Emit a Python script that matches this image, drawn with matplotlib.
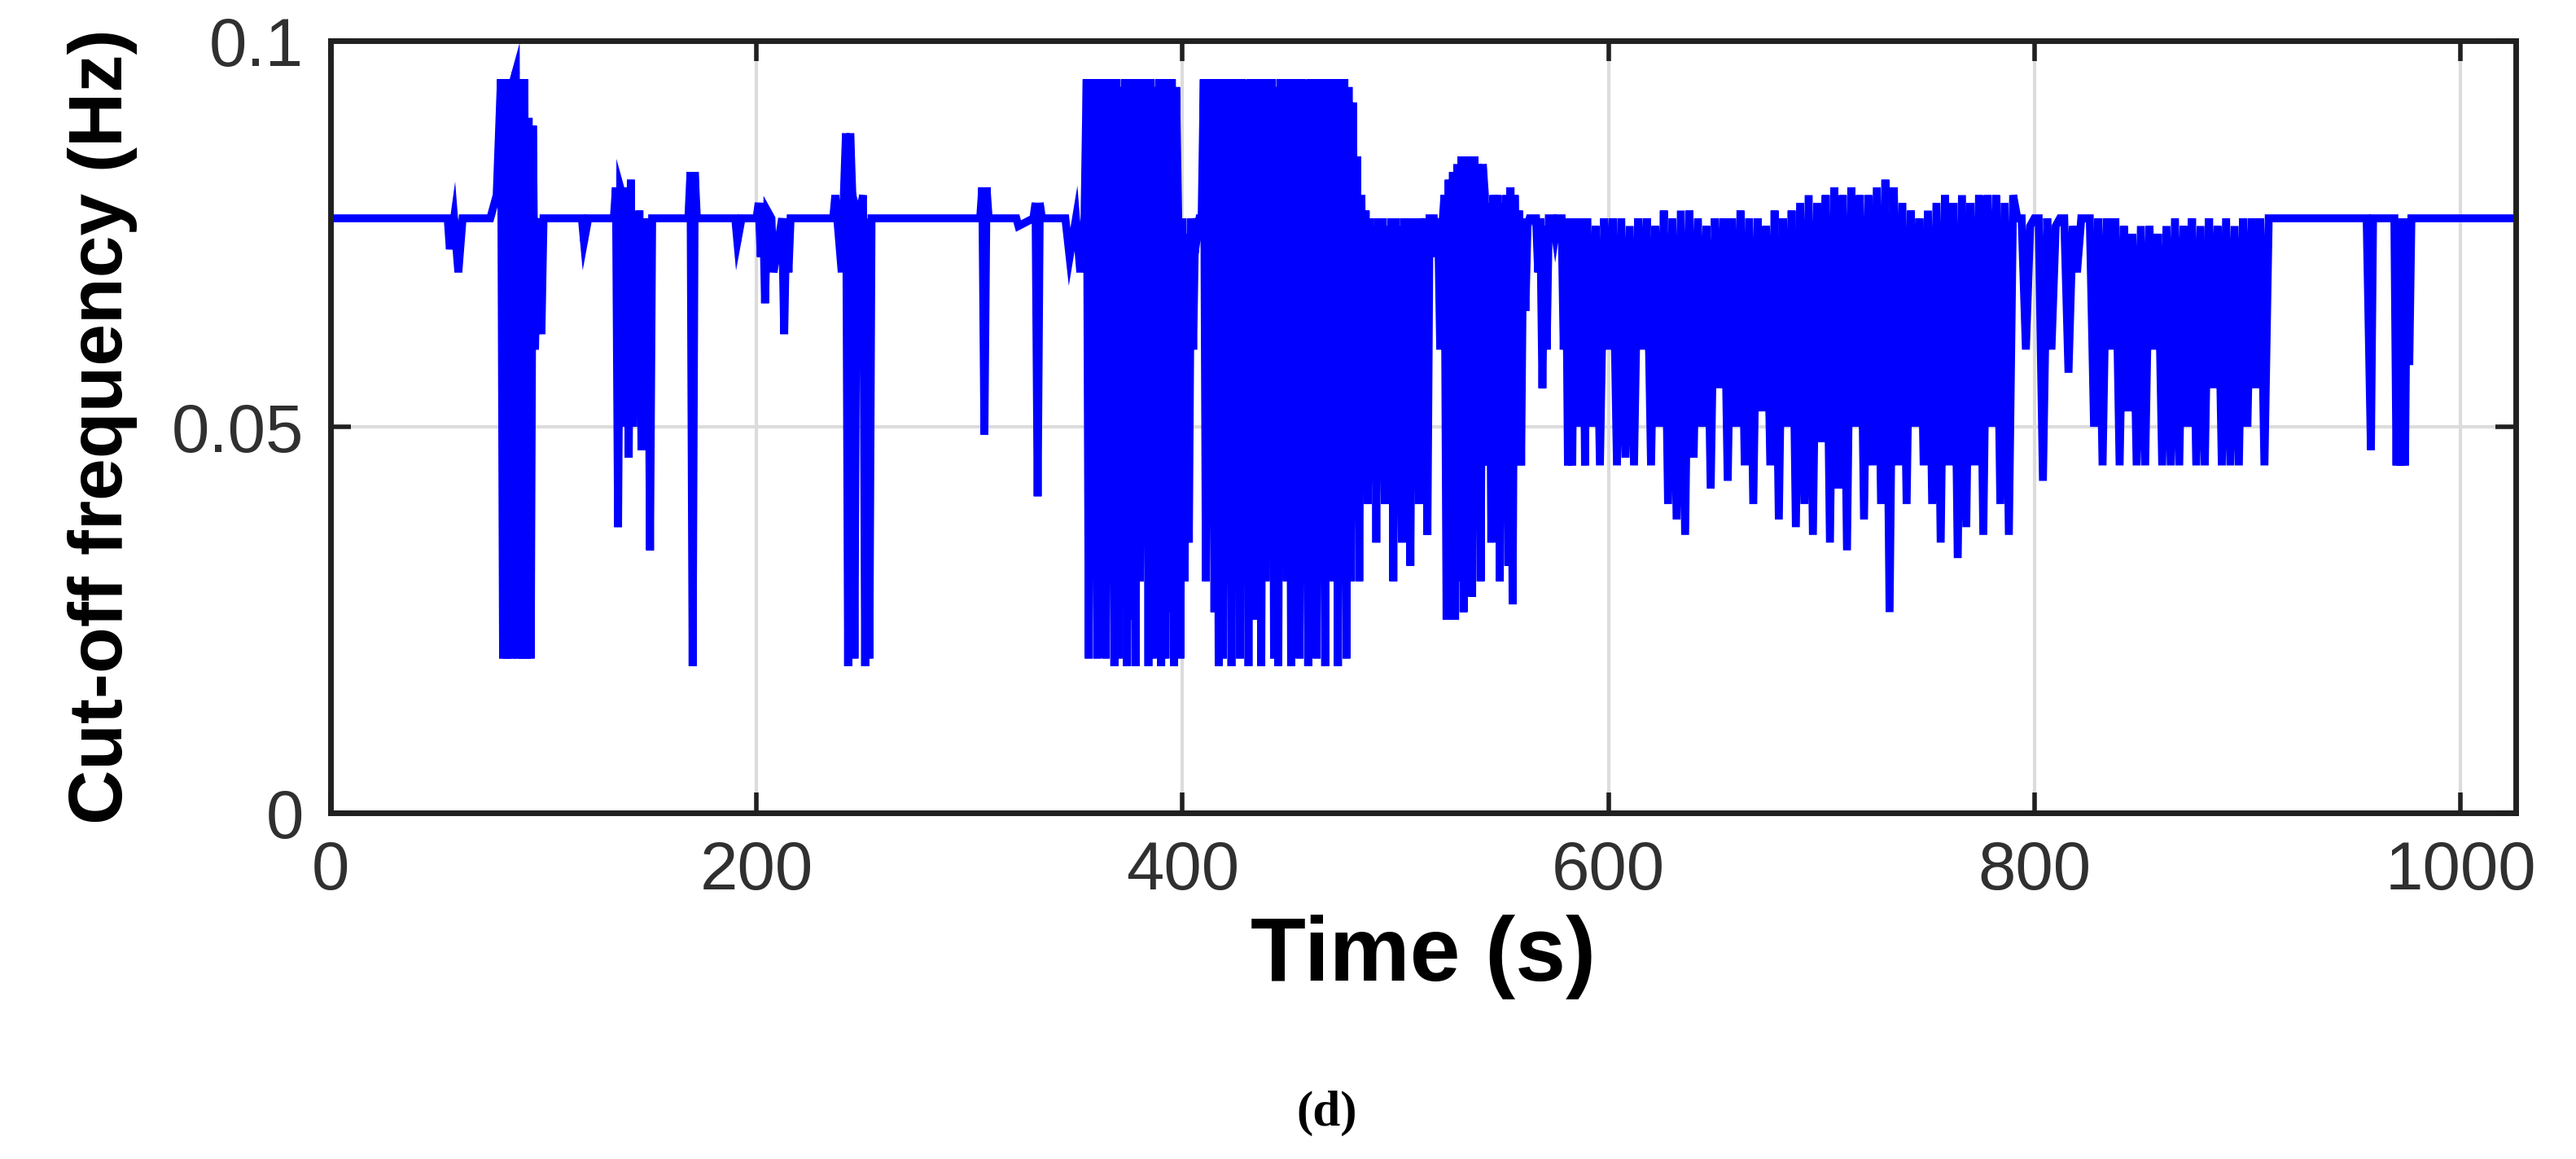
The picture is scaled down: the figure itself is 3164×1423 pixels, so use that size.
import matplotlib
matplotlib.use('Agg')
import matplotlib.pyplot as plt
import numpy as np

# Cut-off frequency trace (time in s, frequency in Hz)
time_s = [
    0, 55, 56, 58, 60, 62, 64, 75, 78, 80, 81, 82, 83, 84, 85, 86, 87, 88, 89, 90, 91, 92, 93, 94, 95, 96, 97, 98, 99, 100,
    118, 119, 121, 122, 133, 134, 135, 136, 137, 138, 139, 140, 141, 142, 143, 144, 145, 146, 147, 148, 149, 150, 151, 152,
    168, 169, 170, 171, 172, 173, 190, 191, 193, 194, 200, 201, 202, 203, 204, 205, 207, 208, 212, 213, 214, 215, 216, 217,
    236, 237, 240, 241, 242, 243, 244, 245, 246, 247, 248, 250, 251, 252, 253, 254, 255,
    305, 306, 307, 308, 309, 310, 322, 323, 330, 331, 332, 333, 334, 335, 336,
    345, 347, 350, 352, 354, 355, 356, 357, 358, 359, 360, 361, 362, 363, 364, 365, 366, 367, 368, 369, 370, 371, 372, 373,
    374, 375, 376, 377, 378, 379, 380, 381, 382, 383, 384, 385, 386, 387, 388, 389, 390, 391, 392, 393, 394, 395, 396, 397,
    398, 399, 400, 401, 402, 403, 404, 405, 406, 407, 408, 409, 410, 411, 412, 413, 414, 415, 416, 417, 418, 419, 420, 421,
    422, 423, 424, 425, 426, 427, 428, 429, 430, 431, 432, 433, 434, 435, 436, 437, 438, 439, 440, 441, 442, 443, 444, 445,
    446, 447, 448, 449, 450, 451, 452, 453, 454, 455, 456, 457, 458, 459, 460, 461, 462, 463, 464, 465, 466, 467, 468, 469,
    470, 471, 472, 473, 474, 475, 476, 477, 478, 479, 480, 481, 482, 483, 484, 485, 486, 487, 488, 489, 490, 491, 492, 493,
    494, 495, 496, 497, 498, 499, 500, 501, 502, 503, 504, 505, 506, 507, 508, 509, 510, 511, 512, 513, 514, 515, 516, 517,
    518, 519, 520, 521, 522, 523, 524, 525, 526, 527, 528, 529, 530, 531, 532, 533, 534, 535, 536, 537, 538, 539, 540, 541,
    542, 543, 544, 545, 546, 547, 548, 549, 550, 551, 552, 553, 554, 555, 556, 557, 558, 559, 560, 561, 562, 563, 564, 565,
    566, 567, 568, 569, 570, 571, 572, 573, 574, 575, 576, 577, 578, 579, 580, 581, 582, 583, 584, 585, 586, 587, 588, 589,
    590, 592, 594, 596, 598, 600, 602, 604, 606, 608, 610, 612, 614, 616, 618, 620, 622, 624, 626, 628, 630, 632, 634, 636,
    638, 640, 642, 644, 646, 648, 650, 652, 654, 656, 658, 660, 662, 664, 666, 668, 670, 672, 674, 676, 678, 680, 682, 684,
    686, 688, 690, 692, 694, 696, 698, 700, 702, 704, 706, 708, 710, 712, 714, 716, 718, 720, 722, 724, 726, 728, 730, 732,
    734, 736, 738, 740, 742, 744, 746, 748, 750, 752, 754, 756, 758, 760, 762, 764, 766, 768, 770, 772, 774, 776, 778, 780,
    782, 784, 786, 788, 790, 792, 794, 796, 798, 800, 802, 804, 806, 808, 810, 812, 814, 816, 818, 820, 822, 824, 826, 828,
    830, 832, 834, 836, 838, 840, 842, 844, 846, 848, 850, 852, 854, 856, 858, 860, 862, 864, 866, 868, 870, 872, 874, 876,
    878, 880, 882, 884, 886, 888, 890, 892, 894, 896, 898, 900, 902, 904, 906, 908, 910, 912,
    955, 956, 958, 959, 960, 968, 969, 970, 971, 972, 973, 974, 975, 976, 977, 978, 979, 980, 1030,
]
freq_hz = [
    .077, .077, .073, .077, .070, .077, .077, .077, .080, .095, .020, .095, .020, .095, .020, .095, .096, .020, .095, .020, .095, .020, .090, .020, .089, .060, .074, .077, .062, .077,
    .077, .074, .077, .077, .077, .081, .037, .081, .080, .050, .081, .046, .082, .050, .077, .055, .078, .047, .077, .060, .077, .034, .077, .077,
    .077, .083, .019, .083, .077, .077, .077, .074, .077, .077, .077, .079, .072, .079, .066, .078, .077, .070, .077, .062, .077, .070, .077, .077,
    .077, .080, .070, .080, .088, .019, .088, .080, .020, .078, .077, .080, .019, .077, .020, .077, .077,
    .077, .081, .049, .081, .077, .077, .077, .076, .077, .079, .041, .079, .077, .077, .077,
    .077, .072, .077, .070, .077, .095, .020, .095, .058, .095, .020, .095, .060, .095, .020, .095, .040, .095, .019, .095, .020, .094, .030, .095,
    .019, .095, .025, .095, .019, .095, .030, .095, .050, .095, .019, .095, .020, .094, .030, .095, .019, .095, .020, .095, .026, .095, .019, .094,
    .077, .020, .077, .030, .075, .035, .077, .060, .077, .075, .077, .077, .095, .030, .095, .070, .095, .026, .095, .019, .095, .020, .095, .030,
    .095, .019, .095, .060, .095, .020, .095, .030, .094, .019, .095, .025, .095, .040, .095, .019, .095, .030, .095, .060, .095, .020, .094, .019,
    .095, .050, .095, .030, .095, .019, .095, .070, .095, .020, .095, .030, .094, .019, .095, .040, .095, .020, .095, .030, .095, .019, .095, .050,
    .095, .030, .095, .019, .095, .040, .095, .020, .094, .030, .092, .060, .085, .030, .080, .055, .078, .040, .077, .045, .076, .035, .077, .055,
    .077, .040, .076, .050, .077, .030, .077, .048, .076, .035, .077, .060, .077, .032, .076, .050, .077, .040, .077, .070, .077, .036, .077, .077,
    .077, .072, .077, .060, .076, .080, .025, .082, .026, .083, .025, .084, .030, .085, .026, .085, .040, .085, .028, .085, .050, .084, .030, .084,
    .080, .045, .079, .035, .080, .050, .080, .030, .079, .045, .080, .032, .081, .027, .080, .060, .078, .045, .077, .065, .076, .077, .077, .077,
    .077, .070, .077, .055, .076, .060, .077, .077, .077, .075, .077, .077, .077, .060, .077, .045, .077, .045, .077, .060, .076, .050, .077, .045,
    .077, .050, .076, .045, .077, .060, .077, .045, .077, .046, .076, .045, .077, .060, .077, .045, .076, .050, .078, .040, .077, .038, .078, .036,
    .078, .046, .077, .050, .076, .042, .077, .055, .077, .043, .077, .050, .078, .045, .077, .040, .077, .052, .076, .045, .078, .038, .077, .050,
    .078, .037, .079, .040, .080, .036, .079, .048, .080, .035, .081, .042, .080, .034, .081, .050, .080, .038, .080, .045, .081, .040, .082, .026,
    .081, .045, .079, .040, .078, .050, .077, .045, .078, .040, .079, .035, .080, .045, .079, .033, .080, .037, .079, .045, .080, .036, .080, .050,
    .080, .040, .079, .036, .080, .077, .077, .060, .076, .077, .077, .043, .077, .060, .076, .077, .077, .057, .076, .070, .077, .077, .077, .050,
    .077, .045, .077, .060, .077, .045, .076, .052, .075, .045, .076, .045, .076, .060, .075, .045, .076, .045, .077, .045, .076, .050, .077, .045,
    .076, .045, .077, .055, .076, .045, .077, .045, .076, .045, .077, .050, .077, .055, .077, .045, .077, .077,
    .077, .077, .047, .077, .077, .077, .077, .045, .077, .045, .077, .045, .077, .058, .077, .077, .077, .077, .077,
]

fig = plt.figure(figsize=(31.64, 14.23), dpi=100)
ax = fig.add_axes([406/3164, 1 - 998/1423, (3090 - 406)/3164, (998 - 50)/1423])
ax.plot(time_s, freq_hz, color='#0000ff', lw=7, solid_joinstyle='miter')
ax.set_xlim(0, 1026)
ax.set_ylim(0, 0.1)
ax.set_xticks([0, 200, 400, 600, 800, 1000])
ax.set_yticks([0, 0.05, 0.1])
ax.set_yticklabels(['0', '0.05', '0.1'])
ax.grid(True, color='#dcdcdc', lw=3)
ax.set_axisbelow(True)
for s in ax.spines.values():
    s.set_linewidth(5)
    s.set_color('#202020')
ax.tick_params(labelsize=60, colors='#202020', width=4, length=18, direction='in', pad=24,
               top=True, right=True)
for lab in ax.get_xticklabels() + ax.get_yticklabels():
    lab.set_family('Liberation Sans')
    lab.set_color('#303030')
ax.set_xlabel('Time (s)', fontsize=80, fontweight='bold', family='Liberation Sans', labelpad=10)
ax.set_ylabel('Cut-off frequency (Hz)', fontsize=67, fontweight='bold', family='Liberation Sans', labelpad=30)
fig.text(0.515, 1 - 1367/1423, '(d)', ha='center', va='center', fontsize=44,
         fontweight='bold', family='Liberation Serif')
fig.savefig('out.png', dpi=100)
